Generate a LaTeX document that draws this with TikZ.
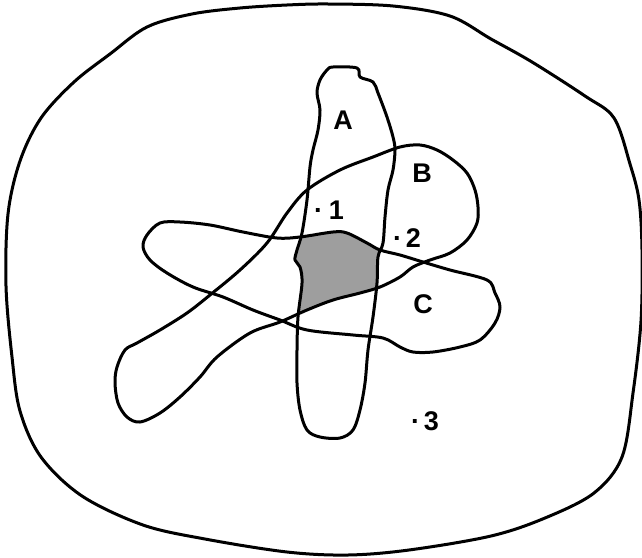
\documentclass[tikz,border=0pt]{standalone}
\usepackage{fontspec}
\setmainfont{Liberation Sans}
\begin{document}
\begin{tikzpicture}[x=1pt,y=-1pt,
  outline/.style={line width=3pt, line join=round},
  lbl/.style={font=\fontsize{27}{27}\selectfont\bfseries, inner sep=0pt},
  shade/.style={fill=black!38}]
\useasboundingbox (0,0) rectangle (642,557);
% universe
\draw[outline] plot[smooth cycle, tension=0.55] coordinates {
 (147,27) (192,14) (240,8) (287,5) (328,4) (393,6) (450,16) (491,39) (532,62)
 (585,96) (614,118) (630,164) (639,200) (642,250) (641,321) (633,393) (622,457)
 (594,493) (545,518) (491,536) (409,550) (348,555) (287,552) (205,539) (143,525)
 (82,496) (41,457) (20,411) (12,357) (6,286) (8,214) (20,161) (41,118) (74,82) (110,54)};
% shaded intersection
\begin{scope}
\clip plot[smooth cycle, tension=0.55] coordinates {
 (333,67) (357,68) (360,77) (373,82) (378,93) (387,117) (393,137) (395,150) (393,170)
 (388,190) (385,217) (383,243) (378,257) (377,283) (373,317) (368,350) (365,383)
 (360,410) (353,430) (340,438) (320,437) (307,430) (300,410) (297,383) (297,350)
 (298,317) (302,283) (300,267) (295,260) (297,250) (302,233) (307,200) (310,167)
 (313,150) (318,130) (320,110) (317,93) (320,80) (327,70)};
\clip plot[smooth cycle, tension=0.55] coordinates {
 (420,145) (437,150) (453,160) (467,173) (475,190) (478,207) (477,223) (467,240)
 (450,253) (430,260) (413,267) (400,277) (380,287) (360,293) (333,300) (307,310)
 (280,322) (250,333) (217,357) (200,377) (180,397) (160,413) (140,422) (127,417)
 (118,403) (115,383) (117,367) (125,350) (137,343) (160,330) (187,313) (210,295)
 (240,270) (267,243) (287,213) (307,190) (340,170) (373,157) (400,147)};
\fill[shade] plot[smooth cycle, tension=0.55] coordinates {
 (143,247) (147,235) (160,223) (180,222) (210,225) (243,232) (277,238) (300,237)
 (333,232) (347,233) (367,243) (380,250) (400,255) (423,262) (450,270) (487,280)
 (495,293) (500,307) (495,323) (480,340) (460,347) (433,352) (413,352) (400,347)
 (383,338) (353,335) (307,330) (280,320) (253,310) (223,297) (193,287) (167,273) (150,260)};
\end{scope}
% A
\draw[outline] plot[smooth cycle, tension=0.55] coordinates {
 (333,67) (357,68) (360,77) (373,82) (378,93) (387,117) (393,137) (395,150) (393,170)
 (388,190) (385,217) (383,243) (378,257) (377,283) (373,317) (368,350) (365,383)
 (360,410) (353,430) (340,438) (320,437) (307,430) (300,410) (297,383) (297,350)
 (298,317) (302,283) (300,267) (295,260) (297,250) (302,233) (307,200) (310,167)
 (313,150) (318,130) (320,110) (317,93) (320,80) (327,70)};
% B
\draw[outline] plot[smooth cycle, tension=0.55] coordinates {
 (420,145) (437,150) (453,160) (467,173) (475,190) (478,207) (477,223) (467,240)
 (450,253) (430,260) (413,267) (400,277) (380,287) (360,293) (333,300) (307,310)
 (280,322) (250,333) (217,357) (200,377) (180,397) (160,413) (140,422) (127,417)
 (118,403) (115,383) (117,367) (125,350) (137,343) (160,330) (187,313) (210,295)
 (240,270) (267,243) (287,213) (307,190) (340,170) (373,157) (400,147)};
% C
\draw[outline] plot[smooth cycle, tension=0.55] coordinates {
 (143,247) (147,235) (160,223) (180,222) (210,225) (243,232) (277,238) (300,237)
 (333,232) (347,233) (367,243) (380,250) (400,255) (423,262) (450,270) (487,280)
 (495,293) (500,307) (495,323) (480,340) (460,347) (433,352) (413,352) (400,347)
 (383,338) (353,335) (307,330) (280,320) (253,310) (223,297) (193,287) (167,273) (150,260)};
% labels
\node[lbl] (lA) at (343,120) {A};
\node[lbl] (lB) at (422,173) {B};
\node[lbl] (lC) at (423,304) {C};
\node[lbl] (p1) at (329,210) {·\hspace{6pt}1};
\node[lbl] (p2) at (407,238) {·\hspace{4pt}2};
\node[lbl] (p3) at (425,421) {·\hspace{4pt}3};
\end{tikzpicture}
\end{document}
